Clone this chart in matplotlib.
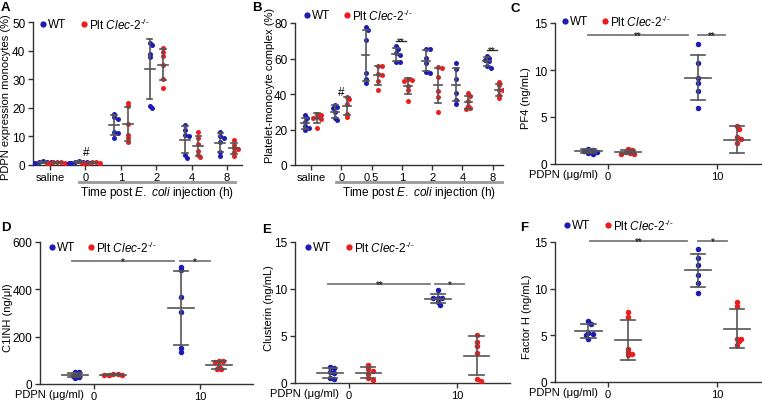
import matplotlib
matplotlib.use('Agg')
import matplotlib.pyplot as plt
import matplotlib.transforms as mtransforms
import numpy as np

plt.rcParams['font.family'] = ['Liberation Sans', 'DejaVu Sans']
plt.rcParams['mathtext.fontset'] = 'custom'
plt.rcParams['mathtext.rm'] = 'Liberation Sans'
plt.rcParams['mathtext.it'] = 'Liberation Sans:italic'
plt.rcParams['font.size'] = 8

W, H = 762, 402
BLUE = '#1c1cb4'
RED = '#ee1c1c'
AXIS = '#333333'
BAR = '#555555'
SIG = '#7a7a7a'

# ---------------- data ----------------
time_a = ['saline', '0', '1', '2', '4', '8']
pdpn_wt = [[1.3, 1.2, 1.0, 0.9, 0.8, 0.8],
           [1.4, 1.1, 1.0, 0.9, 0.8, 0.8],
           [17.9, 16.7, 16.2, 11.7, 11.2, 9.6],
           [42.7, 42.0, 38.9, 37.6, 20.8, 20.0],
           [14.0, 12.4, 10.4, 10.0, 3.5, 2.6],
           [11.4, 10.0, 9.4, 8.2, 4.5, 3.3]]
pdpn_ko = [[1.2, 1.1, 0.9, 0.8, 0.7, 0.7],
           [1.1, 0.9, 0.8, 0.8, 0.7, 0.6],
           [21.8, 20.8, 14.5, 10.6, 9.4, 8.0],
           [40.8, 39.6, 38.2, 35.0, 30.2, 27.0],
           [11.6, 9.3, 7.2, 4.8, 3.5, 2.8],
           [8.8, 7.1, 6.1, 5.6, 4.5, 3.3]]

time_b = ['saline', '0', '0.5', '1', '2', '4', '8']
pmc_wt = [[28.0, 26.5, 24.0, 22.0, 21.0, 20.0],
          [34.0, 32.5, 32.0, 30.0, 26.6, 25.1],
          [77.7, 76.2, 70.2, 51.9, 48.5, 46.3],
          [66.9, 65.5, 63.1, 62.2, 58.0, 58.0],
          [65.4, 65.4, 60.3, 57.5, 52.2, 51.9],
          [57.5, 54.1, 48.5, 40.3, 36.9, 34.6],
          [61.6, 60.3, 59.4, 58.5, 55.6, 54.7]]
pmc_ko = [[29.0, 28.0, 27.0, 26.5, 26.0, 21.0],
          [38.5, 37.0, 34.5, 29.0, 27.0],
          [56.0, 56.0, 51.0, 50.5, 47.6, 42.0],
          [48.5, 48.0, 47.5, 44.3, 42.4, 36.2],
          [55.0, 54.7, 49.6, 41.6, 38.2, 30.0],
          [40.3, 39.1, 36.0, 33.5, 32.2, 31.6],
          [46.6, 44.8, 42.5, 42.0, 39.7, 37.8]]

dose = ['0', '10']
pf4_wt = [[1.6, 1.52, 1.4, 1.3, 1.2, 1.1], [12.8, 10.7, 9.2, 8.66, 7.8, 6.0]]
pf4_ko = [[1.55, 1.5, 1.3, 1.2, 1.1, 1.1], [4.0, 3.7, 2.9, 2.7, 2.2, 0.0]]
c1inh_wt = [[50, 49, 40, 35, 30, 25], [494, 480, 367, 306, 151, 134]]
c1inh_ko = [[41, 41, 39, 38, 37], [99, 99, 92, 73, 63, 63]]
clu_wt = [[1.67, 1.6, 1.14, 1.03, 0.5, 0.43], [9.85, 9.03, 9.03, 9.03, 8.6, 8.35]]
clu_ko = [[1.95, 1.45, 1.3, 1.0, 0.5, 0.35], [5.12, 4.4, 3.98, 3.2, 0.43, 0.25]]
fh_wt = [[6.5, 6.2, 5.3, 5.15, 5.05, 4.6], [14.3, 13.3, 12.5, 11.5, 10.6, 9.5]]
fh_ko = [[7.47, 6.93, 3.55, 3.2, 3.0, 2.84], [8.53, 8.18, 4.62, 4.62, 4.34, 4.0]]

KO_LABEL = 'Plt $\\mathit{Clec}$-2$^{\u2010/\u2010}$'

fig = plt.figure(figsize=(W / 100, H / 100), dpi=100)


def px_axes(left, top, right, bottom):
    ax = fig.add_axes([left / W, 1 - bottom / H, (right - left) / W, (bottom - top) / H])
    for s in ['top', 'right']:
        ax.spines[s].set_visible(False)
    for s in ['left', 'bottom']:
        ax.spines[s].set_color(AXIS)
        ax.spines[s].set_linewidth(1)
    ax.tick_params(direction='out', length=3.5, width=1, color=AXIS, labelsize=8.5, pad=2)
    ax.tick_params(axis='x', labelsize=8, pad=1.2)
    return ax


def shift(trans, dx=0, dy=0):
    return mtransforms.offset_copy(trans, fig=fig, x=dx, y=dy, units='dots')


def swarm_x(ax, x0, values, diam):
    # simple beeswarm in pixel space so piled-up dots get pushed sideways a little
    pts = ax.transData.transform(np.column_stack([np.full(len(values), x0), values]))
    placed = []
    for px, py in pts:
        for k in [0, 1, -1, 2, -2, 3, -3, 4, -4, 5, -5]:
            cx = px + k * diam * 0.4
            if all((cx - qx) ** 2 + (py - qy) ** 2 >= (0.55 * diam) ** 2 for qx, qy in placed):
                break
        placed.append((cx, py))
    return ax.transData.inverted().transform(np.array(placed))[:, 0]


def dots(ax, wt, ko, off, diam, mean_hw, cap_hw):
    for i in range(len(wt)):
        for vals, x, col in [(wt[i], i - off, BLUE), (ko[i], i + off, RED)]:
            v = np.array(vals, dtype=float)
            m, sd = v.mean(), v.std(ddof=1)
            shown = v[v > 0]  # points sitting on the baseline are hidden in the original
            xs = swarm_x(ax, x, shown, diam)
            ax.scatter(xs, shown, s=(diam * 0.72) ** 2, color=col, linewidths=0, zorder=3)
            ax.plot([x, x], [m - sd, m + sd], color=BAR, lw=1.2, zorder=4)
            for y in (m - sd, m + sd):
                ax.plot([x - cap_hw, x + cap_hw], [y, y], color=BAR, lw=1.2, zorder=4)
            ax.plot([x - mean_hw, x + mean_hw], [m, m], color=BAR, lw=1.2, zorder=4)


def legend(ax, dx, dy, gap=40):
    for k, (lab, col) in enumerate([('WT', BLUE), (KO_LABEL, RED)]):
        tr = shift(ax.transAxes, dx + k * gap, dy)
        ax.plot([0], [1], marker='o', ms=4.5, color=col, mec='none', transform=tr, clip_on=False)
        ax.text(0, 1, lab, transform=shift(tr, 5, 0), ha='left', va='center', fontsize=8.5)


def ylab(ax, text, x_px, y_px):
    ax.set_ylabel(text, fontsize=8)
    bb = ax.get_position()
    ax.yaxis.set_label_coords((x_px / W - bb.x0) / bb.width, ((1 - y_px / H) - bb.y0) / bb.height)


def time_axis(ax, x0, x1):
    tr = ax.get_xaxis_transform()
    ax.plot([x0, x1], [0, 0], color='#9a9a9a', lw=2, transform=shift(tr, 0, -17), clip_on=False)
    ax.text((x0 + x1) / 2, 0, r'Time post $\mathit{E.}$ $\mathit{coli}$ injection (h)', transform=shift(tr, 0, -27),
            ha='center', va='center', fontsize=8.5)


def sig(ax, x0, x1, y, text, color=SIG, lw=1.3):
    ax.plot([x0, x1], [y, y], color=color, lw=lw, clip_on=False)
    ax.text((x0 + x1) / 2, y, text, ha='center', va='center', fontsize=7, clip_on=False)


def dose_axis(ax, ylim, yticks, xlim):
    ax.set_xlim(*xlim)
    ax.set_ylim(*ylim)
    ax.set_yticks(yticks)
    ax.set_xticks([0, 1])
    ax.set_xticklabels(dose)
    ax.text(0, 0, 'PDPN (\u03bcg/ml)', transform=shift(ax.get_xaxis_transform(), -10, -10),
            ha='right', va='center', fontsize=8)


# ---------------- A ----------------
axA = px_axes(33, 23, 242, 166)
axA.set_xlim(-0.48, 5.42)
axA.set_ylim(0, 50)
axA.set_yticks([0, 10, 20, 30, 40, 50])
axA.set_xticks(range(len(time_a)))
axA.set_xticklabels(time_a)
dots(axA, pdpn_wt, pdpn_ko, 0.19, 5, 0.14, 0.08)
axA.text(1.02, 4.5, '#', ha='center', va='center', fontsize=8.5)
time_axis(axA, 0.82, 5.23)
ylab(axA, 'PDPN expression monocytes (%)', 11, 97)
legend(axA, 10, -2, 41)

# ---------------- B ----------------
axB = px_axes(295, 24, 503, 166)
axB.set_xlim(-0.53, 6.34)
axB.set_ylim(0, 80)
axB.set_yticks([0, 20, 40, 60, 80])
axB.set_xticks(range(len(time_b)))
axB.set_xticklabels(time_b)
dots(axB, pmc_wt, pmc_ko, 0.2, 5, 0.13, 0.1)
axB.text(0.99, 41, '#', ha='center', va='center', fontsize=8.5)
sig(axB, 2.8, 3.15, 70, '**', color=AXIS, lw=1)
sig(axB, 5.8, 6.15, 65, '**', color=AXIS, lw=1)
time_axis(axB, 0.83, 6.3)
ylab(axB, 'Platelet-monocyte complex (%)', 275, 85)
legend(axB, 12, 8, 40)

# ---------------- C ----------------
axC = px_axes(555, 24, 761, 165)
dose_axis(axC, (0, 15), [0, 5, 10, 15], (-0.486, 1.4))
dots(axC, pf4_wt, pf4_ko, 0.18, 5.5, 0.12, 0.065)
sig(axC, -0.18, 0.73, 13.7, '**')
sig(axC, 0.82, 1.07, 13.7, '**')
ylab(axC, 'PF4 (ng/mL)', 531, 98)
legend(axC, 10, 2, 40)

# ---------------- D ----------------
axD = px_axes(40, 243, 253, 385)
dose_axis(axD, (0, 600), [0, 200, 400, 600], (-0.51, 1.5))
dots(axD, c1inh_wt, c1inh_ko, 0.18, 5.5, 0.12, 0.065)
sig(axD, -0.21, 0.75, 520, '*')
sig(axD, 0.81, 1.09, 520, '*')
ylab(axD, 'C1INH (ng/\u03bcl)', 13, 318)
legend(axD, 12, -5, 39)

# ---------------- E ----------------
axE = px_axes(295, 243, 510, 384)
dose_axis(axE, (0, 15), [0, 5, 10, 15], (-0.5, 1.49))
dots(axE, clu_wt, clu_ko, 0.18, 5.5, 0.12, 0.065)
sig(axE, -0.19, 0.75, 10.57, '**')
sig(axE, 0.8, 1.06, 10.57, '*')
ylab(axE, 'Clusterin (ng/mL)', 274, 308)
legend(axE, 13, -5, 41)

# ---------------- F ----------------
axF = px_axes(555, 243, 761, 383)
dose_axis(axF, (0, 15), [0, 5, 10, 15], (-0.486, 1.4))
dots(axF, fh_wt, fh_ko, 0.18, 5.5, 0.12, 0.065)
sig(axF, -0.165, 0.72, 15.1, '**')
sig(axF, 0.82, 1.09, 15.1, '*')
ylab(axF, 'Factor H (ng/mL)', 532, 317)
legend(axF, 12, 17, 41)

# panel letters
for letter, x, y in [('A', 1, 2), ('B', 252, 2), ('C', 511, 3), ('D', 1, 222), ('E', 262, 224), ('F', 520, 222)]:
    fig.text(x / W, 1 - y / H, letter, ha='left', va='top', fontsize=9.5, fontweight='bold')

fig.savefig('out.png', dpi=100)
